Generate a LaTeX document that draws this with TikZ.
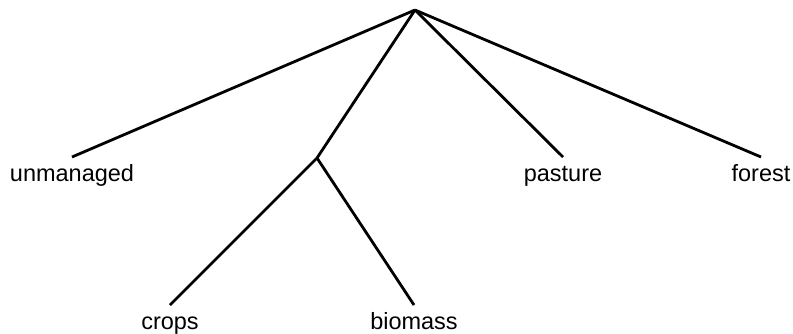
\documentclass[tikz,border=0pt]{standalone}
\usepackage{fontspec}
\setmainfont{Liberation Sans}
\usepackage{tikz}

\begin{document}
\begin{tikzpicture}[x=1pt,y=-1pt,line width=2.8pt,
  leaf/.style={anchor=north,inner xsep=0pt,inner ysep=6pt,text height=17pt,text depth=5pt,font=\fontsize{23.5}{27}\selectfont}]
  \useasboundingbox (0,0) rectangle (793,333);
  \coordinate (root) at (415,10);
  \coordinate (split) at (317,158);
  \node[leaf] (unmanaged) at (72,157) {unmanaged};
  \node[leaf] (pasture) at (563,157) {pasture};
  \node[leaf] (forest) at (761,157) {forest};
  \node[leaf] (crops) at (170,305) {crops};
  \node[leaf] (biomass) at (414,305) {biomass};

  \path (root) edge (unmanaged.north)
        edge (split)
        edge (pasture.north)
        edge (forest.north)
        (split) edge (crops.north)
        edge (biomass.north);
\end{tikzpicture}
\end{document}
